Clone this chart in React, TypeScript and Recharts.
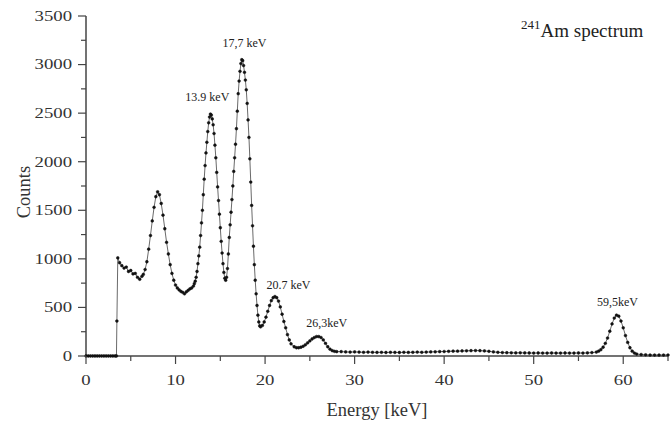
import { LineChart, Line, XAxis, YAxis, ReferenceDot } from "recharts"

const serif = "'Liberation Serif', 'Times New Roman', serif"

// detector threshold + low energy shoulder
const lowEnergies = [0, 0.25, 0.5, 0.75, 1, 1.25, 1.5, 1.75, 2, 2.25, 2.5, 2.75, 3, 3.25, 3.4, 3.45, 3.55,
  3.75, 4, 4.25, 4.5, 4.75, 5, 5.25, 5.5, 5.75, 6, 6.25]
const lowCounts = [0, 0, 0, 0, 0, 0, 0, 0, 0, 0, 0, 0, 0, 0, 0, 360, 1010,
  960, 930, 905, 915, 870, 880, 845, 850, 810, 790, 820]

// ~8 keV bump
const bumpEnergies = [6.4, 6.6, 6.8, 7, 7.2, 7.4, 7.6, 7.8, 8, 8.2,
  8.4, 8.6, 8.8, 9, 9.2, 9.4, 9.6, 9.8, 10, 10.2,
  10.4, 10.6, 10.8, 11, 11.2, 11.4, 11.6, 11.8]
const bumpCounts = [840, 890, 970, 1100, 1240, 1390, 1530, 1640, 1690, 1660,
  1570, 1450, 1310, 1170, 1050, 940, 850, 780, 730, 700,
  680, 665, 655, 640, 660, 675, 690, 700]

// L lines 13.9 / 17.7 keV
const lEnergies = [12, 12.1, 12.2, 12.3, 12.4, 12.5, 12.6, 12.7, 12.8, 12.9,
  13, 13.1, 13.2, 13.3, 13.4, 13.5, 13.6, 13.7, 13.8, 13.9,
  14, 14.1, 14.2, 14.3, 14.4, 14.5, 14.6, 14.7, 14.8, 14.9,
  15, 15.1, 15.2, 15.3, 15.4, 15.5, 15.6, 15.7, 15.8, 15.9,
  16, 16.1, 16.2, 16.3, 16.4, 16.5, 16.6, 16.7, 16.8, 16.9,
  17, 17.1, 17.2, 17.3, 17.4, 17.5, 17.6, 17.7, 17.8, 17.9,
  18, 18.1, 18.2, 18.3, 18.4, 18.5, 18.6, 18.7, 18.8, 18.9,
  19, 19.1, 19.2, 19.3, 19.4, 19.5]
const lCounts = [720, 745, 770, 810, 870, 950, 1030, 1120, 1240, 1370,
  1500, 1660, 1820, 1960, 2090, 2200, 2310, 2400, 2460, 2490,
  2480, 2440, 2380, 2290, 2170, 2040, 1890, 1740, 1600, 1460,
  1320, 1180, 1060, 950, 860, 800, 780, 810, 900, 1050,
  1220, 1350, 1480, 1610, 1750, 1900, 2040, 2180, 2340, 2520,
  2700, 2830, 2930, 3010, 3050, 3040, 2990, 2920, 2840, 2740,
  2600, 2430, 2250, 2030, 1790, 1550, 1340, 1130, 940, 780,
  640, 520, 420, 350, 310, 300]

// 20.7 and 26.3 keV
const tailEnergies = [19.7, 19.9, 20.1, 20.3, 20.5, 20.7, 20.9, 21.1, 21.3, 21.5,
  21.7, 21.9, 22.1, 22.3, 22.5, 22.7, 22.9,
  23.25, 23.5, 23.75, 24, 24.25, 24.5, 24.75, 25, 25.25, 25.5,
  25.75, 26, 26.25, 26.5, 26.75, 27, 27.25, 27.5, 27.75, 28]
const tailCounts = [315, 350, 400, 460, 520, 570, 600, 612, 600, 565,
  505, 430, 355, 290, 220, 165, 125,
  95, 85, 85, 90, 100, 115, 135, 155, 175, 190,
  200, 200, 190, 165, 130, 95, 70, 55, 48, 45]

const flatEnergies = [28.5, 29, 29.5, 30, 30.5, 31, 31.5, 32, 32.5, 33,
  33.5, 34, 34.5, 35, 35.5, 36, 36.5, 37, 37.5, 38,
  38.5, 39, 39.5, 40, 40.5, 41, 41.5, 42, 42.5, 43,
  43.5, 44, 44.5, 45, 45.5, 46, 46.5, 47, 47.5, 48,
  48.5, 49, 49.5, 50, 50.5, 51, 51.5, 52, 52.5, 53,
  53.5, 54, 54.5, 55, 55.5, 56, 56.5, 57]
const flatCounts = [45, 42, 40, 42, 40, 38, 40, 38, 37, 38,
  36, 38, 37, 36, 38, 37, 38, 40, 38, 40,
  42, 43, 45, 46, 48, 50, 50, 52, 53, 55,
  56, 55, 52, 48, 42, 38, 35, 34, 33, 32,
  33, 32, 31, 30, 31, 30, 30, 31, 30, 30,
  31, 30, 30, 31, 30, 32, 35, 40]

// 59.5 keV gamma line
const gammaEnergies = [57.25, 57.5, 57.75, 58, 58.25, 58.5, 58.75, 59, 59.25, 59.5,
  59.75, 60, 60.25, 60.5, 60.75, 61, 61.25, 61.5, 62, 62.5,
  63, 63.5, 64, 64.5, 65]
const gammaCounts = [50, 65, 90, 130, 185, 255, 330, 390, 420, 410,
  360, 290, 210, 140, 85, 50, 30, 20, 15, 12,
  10, 10, 10, 10, 10]

const xTicks = [0, 5, 10, 15, 20, 25, 30, 35, 40, 45, 50, 55, 60, 65]
const yTicks = [0, 250, 500, 750, 1000, 1250, 1500, 1750, 2000, 2250, 2500, 2750, 3000, 3250, 3500]

const peakLabels = [
  { text: "13.9 keV", energy: 13.55, counts: 2668 },
  { text: "17,7 keV", energy: 17.69, counts: 3224 },
  { text: "20.7 keV", energy: 22.62, counts: 731 },
  { text: "26,3keV", energy: 26.88, counts: 340 },
  { text: "59,5keV", energy: 59.35, counts: 556 },
]

const energies = [...lowEnergies, ...bumpEnergies, ...lEnergies, ...tailEnergies, ...flatEnergies, ...gammaEnergies]
const counts = [...lowCounts, ...bumpCounts, ...lCounts, ...tailCounts, ...flatCounts, ...gammaCounts]
const data = energies.map((e, i) => ({ energy: e, counts: counts[i] }))

const axisColor = "#444"

function YTick(props: any) {
  const { x, y, payload } = props
  const major = payload.value % 500 === 0
  return (
    <g>
      <line x1={x} x2={x - (major ? 8 : 5)} y1={y} y2={y} stroke={axisColor} strokeWidth={1.2} />
      {major && (
        <text
          transform={`translate(${x - 14},${y}) scale(1.25,1)`}
          textAnchor="end"
          dominantBaseline="central"
          fontSize={15}
          fontFamily={serif}
          fill="#333"
        >
          {payload.value}
        </text>
      )}
    </g>
  )
}

function XTick(props: any) {
  const { x, y, payload } = props
  const major = payload.value % 10 === 0
  return (
    <g>
      <line x1={x} x2={x} y1={y} y2={y + (major ? 8 : 5)} stroke={axisColor} strokeWidth={1.2} />
      {major && (
        <text
          transform={`translate(${x},${y + 29}) scale(1.25,1)`}
          textAnchor="middle"
          fontSize={15}
          fontFamily={serif}
          fill="#333"
        >
          {payload.value}
        </text>
      )}
    </g>
  )
}

export default function App() {
  return (
    <div style={{ position: "absolute", left: 0, top: 0, width: 671, height: 425, background: "#fff" }}>
      <LineChart width={671} height={425} data={data} margin={{ top: 16, right: 3, bottom: 0, left: 0 }}>
        <XAxis
          type="number"
          dataKey="energy"
          domain={[0, 65]}
          ticks={xTicks}
          height={69}
          tickSize={0}
          tickMargin={0}
          tickLine={false}
          tick={<XTick />}
          axisLine={{ stroke: axisColor, strokeWidth: 1.5 }}
          interval={0}
        />
        <YAxis
          type="number"
          domain={[0, 3500]}
          ticks={yTicks}
          width={86}
          tickSize={0}
          tickMargin={0}
          tickLine={false}
          tick={<YTick />}
          axisLine={{ stroke: axisColor, strokeWidth: 1.5 }}
          interval={0}
        />
        <Line
          type="linear"
          dataKey="counts"
          stroke="#444"
          strokeWidth={0.8}
          dot={{ r: 1.4, fill: "#111", stroke: "#111", strokeWidth: 0.5 }}
          activeDot={false}
          isAnimationActive={false}
        />
        {peakLabels.map((p) => (
          <ReferenceDot
            key={p.text}
            x={p.energy}
            y={p.counts}
            r={0}
            fill="none"
            stroke="none"
            ifOverflow="visible"
            label={{ value: p.text, position: "center", fontSize: 12, fill: "#222", fontFamily: serif }}
          />
        ))}
      </LineChart>
      <svg width={671} height={425} style={{ position: "absolute", left: 0, top: 0, pointerEvents: "none" }}>
        <text x={521} y={37} fontSize={19} fontFamily={serif} fill="#222">
          <tspan fontSize={13} dy={-8}>241</tspan>
          <tspan dy={8}>Am spectrum</tspan>
        </text>
        <text x={377} y={416} textAnchor="middle" fontSize={18.5} fontFamily={serif} fill="#333">
          Energy [keV]
        </text>
        <text transform="translate(30,192) rotate(-90)" textAnchor="middle" fontSize={18.5} fontFamily={serif} fill="#333">
          Counts
        </text>
      </svg>
    </div>
  )
}
